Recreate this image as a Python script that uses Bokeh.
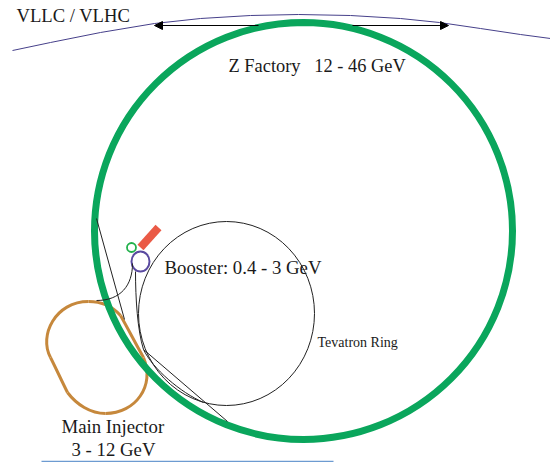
from bokeh.plotting import figure
from bokeh.models import Arrow, NormalHead, Range1d
from bokeh.core.properties import value
from bokeh.embed import file_html
from bokeh.resources import INLINE

# Rings: centre x, centre y, x radius, y radius (image pixels, y down)
z_factory = (303, 230.5, 209, 208.5)
tevatron = (226, 313, 88, 92)
booster = (140, 261, 9, 10)
linac_ring = (131, 247, 4.5, 4.5)

# Horizon of the big ring
vllc_x = [12, 50, 100, 154, 200, 250, 298, 350, 400, 439, 480, 520, 550]
vllc_y = [50, 42, 32, 23, 18, 15, 14, 15, 18, 22, 28, 34, 38]

# Main Injector outline as cubic segments
mi_x0 = [88, 120, 143, 105, 67, 50]
mi_y0 = [301, 315, 357, 413, 392, 357]
mi_x1 = [120, 143, 105, 67, 50, 88]
mi_y1 = [315, 357, 413, 392, 357, 301]
mi_cx0 = [100, 128, 155, 90, 61, 38]
mi_cy0 = [301, 329, 385, 413, 380, 335]
mi_cx1 = [112, 135, 135, 76, 56, 55]
mi_cy1 = [306, 343, 413, 404, 369, 301]

# Thin transfer lines
line_xs = [[96, 124], [143, 227]]
line_ys = [[218, 319], [349, 421]]
curve_x0 = [96, 135, 143]
curve_y0 = [300, 271, 349]
curve_x1 = [132, 143, 203]
curve_y1 = [263, 349, 402]
curve_cx0 = [120, 135, 152]
curve_cy0 = [300, 298, 368]
curve_cx1 = [132, 137, 180]
curve_cy1 = [285, 330, 392]

# Red target bar
bar_x = [140, 158]
bar_y = [247, 227]

# Arrows
arrow_x0 = [258, 352]
arrow_x1 = [154, 448]
arrow_y = [25, 25]

# Ground line
ground_x = [41, 333]
ground_y = [461, 461]

# Labels
label_text = ["VLLC / VLHC", "Z Factory\u00a0\u00a0 12 - 46 GeV", "Booster: 0.4 - 3 GeV",
              "Tevatron Ring", "Main Injector", "3 - 12 GeV"]
label_x = [16, 228, 164, 317, 61, 71]
label_y = [15, 65, 267, 342, 426, 449]
label_size = ["18.6px", "18.4px", "18.8px", "14px", "18.8px", "18.8px"]

GREEN = "#0aa65c"
p = figure(width=550, height=462, output_backend="svg", toolbar_location=None,
           x_range=Range1d(0, 550), y_range=Range1d(462, 0), min_border=0)
p.xaxis.visible = False
p.yaxis.visible = False
p.grid.visible = False
p.outline_line_color = None
p.background_fill_color = "white"

p.line(vllc_x, vllc_y, line_color="#46408a", line_width=1)
p.bezier(mi_x0, mi_y0, mi_x1, mi_y1, mi_cx0, mi_cy0, mi_cx1, mi_cy1,
         line_color="#c6883c", line_width=3)
p.ellipse(x=[z_factory[0]], y=[z_factory[1]], width=[2 * z_factory[2]], height=[2 * z_factory[3]],
          fill_color=None, line_color=GREEN, line_width=7)
p.ellipse(x=[tevatron[0]], y=[tevatron[1]], width=[2 * tevatron[2]], height=[2 * tevatron[3]],
          fill_color=None, line_color="#222222", line_width=1)
p.ellipse(x=[booster[0]], y=[booster[1]], width=[2 * booster[2]], height=[2 * booster[3]],
          fill_color=None, line_color="#5a4aa0", line_width=2)
p.ellipse(x=[linac_ring[0]], y=[linac_ring[1]], width=[2 * linac_ring[2]], height=[2 * linac_ring[3]],
          fill_color=None, line_color="#22b14c", line_width=1.8)
p.line(bar_x, bar_y, line_color="#ea5a46", line_width=8)
p.multi_line(line_xs, line_ys, line_color="#222222", line_width=1)
p.bezier(curve_x0, curve_y0, curve_x1, curve_y1, curve_cx0, curve_cy0, curve_cx1, curve_cy1,
         line_color="#222222", line_width=1)
for x0, x1, y in zip(arrow_x0, arrow_x1, arrow_y):
    p.add_layout(Arrow(end=NormalHead(size=8, fill_color="black", line_color="black"),
                       x_start=x0, y_start=y, x_end=x1, y_end=y,
                       line_color="black", line_width=1))
p.line(ground_x, ground_y, line_color="#6d9bd1", line_width=1.5)
p.text(label_x, label_y, text=label_text, text_font=value("Liberation Serif"),
       text_font_size=label_size, text_color="#1a1a1a",
       text_baseline="alphabetic", text_align="left")

open("out.html", "w").write(file_html(p, INLINE))
